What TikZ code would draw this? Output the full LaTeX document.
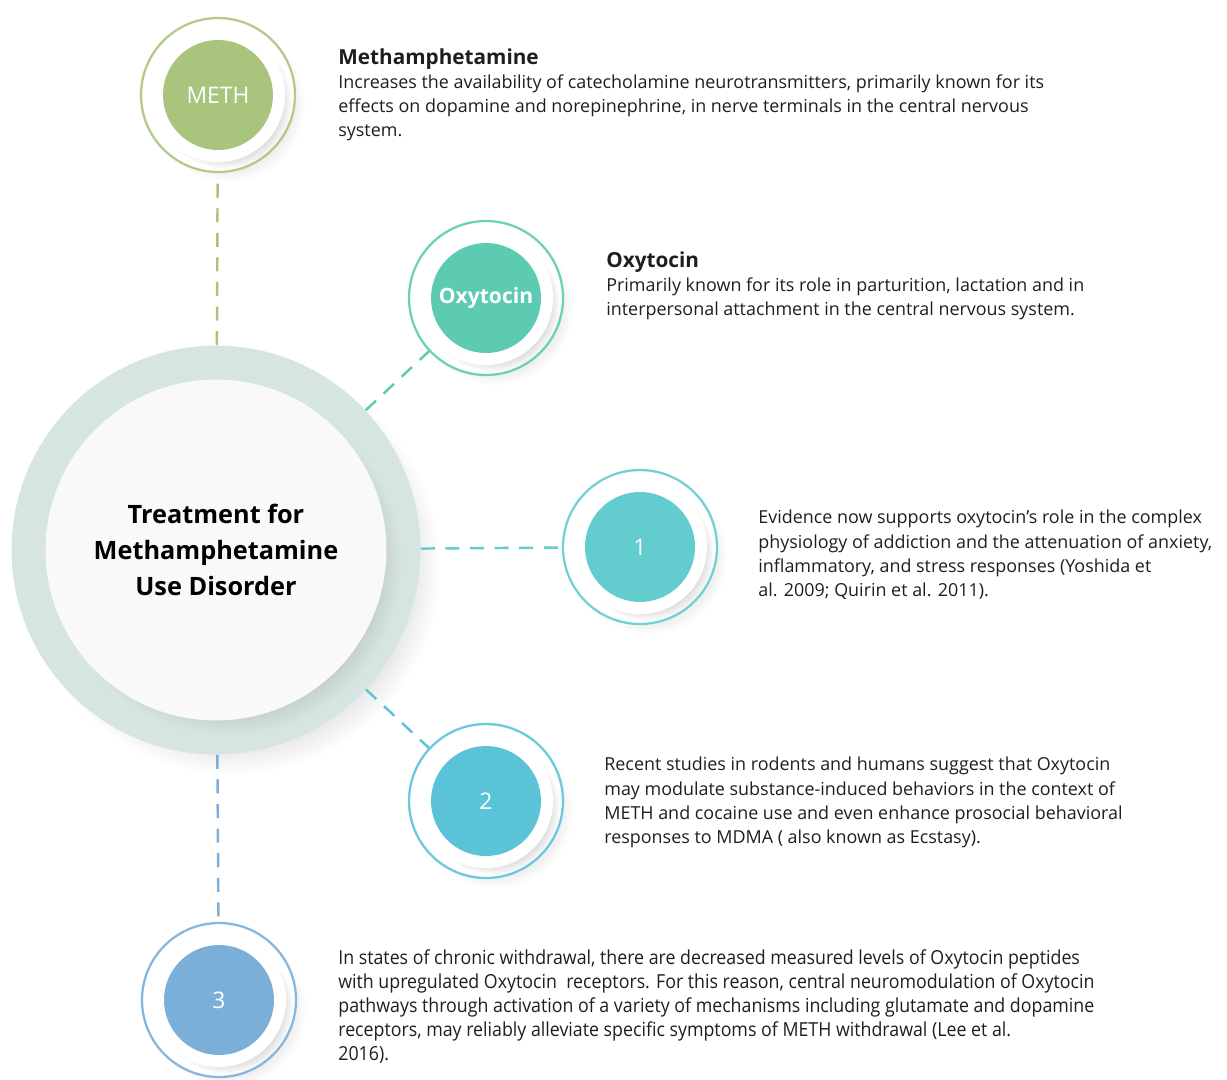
\documentclass[tikz,border=0pt]{standalone}
\usepackage{fontspec}
\setmainfont{Open Sans}
\newfontfamily\narrowfont[FakeStretch=0.92]{Open Sans}
\usetikzlibrary{shadows}
\definecolor{methgreen}{HTML}{A9C57D}
\definecolor{oxyteal}{HTML}{5DCBB1}
\definecolor{onecyan}{HTML}{63CCCE}
\definecolor{twoblue}{HTML}{5BC3D8}
\definecolor{threeblue}{HTML}{7BAFD7}
\definecolor{hubring}{HTML}{D6E5E2}
\definecolor{hubcore}{HTML}{F9F9F9}
\definecolor{inktext}{HTML}{1E1E1E}
\newcommand{\headline}[1]{{\fontsize{11.8}{13.7}\selectfont\bfseries #1}}
\begin{document}
\begin{tikzpicture}[x=0.02cm, y=-0.02cm,
hubout/.style={circle, fill=hubring, minimum size=8.18cm, inner sep=0,
  circular drop shadow={shadow xshift=9pt, shadow yshift=-9pt, opacity=0.2, shadow scale=1.02}},
hubin/.style={circle, fill=hubcore, minimum size=6.82cm, inner sep=0, align=center,
  font=\fontsize{14.4}{20.4}\selectfont\bfseries, text=black,
  circular drop shadow={shadow xshift=7pt, shadow yshift=-7pt, opacity=0.25, shadow scale=1.01}},
ringout/.style={circle, fill=white, line width=1.3pt, minimum size=3.08cm, inner sep=0,
  circular drop shadow={shadow xshift=5pt, shadow yshift=-5pt, opacity=0.12, shadow scale=1.02}},
ringdisk/.style={circle, fill=white, minimum size=2.68cm, inner sep=0,
  circular drop shadow={shadow xshift=4pt, shadow yshift=-4pt, opacity=0.25, shadow scale=1.0}},
ringcore/.style={circle, minimum size=2.2cm, inner sep=0, text=white,
  font=\fontsize{13}{15}\selectfont},
dashlink/.style={line width=1.4pt, dash pattern=on 8pt off 6pt},
blurb/.style={anchor=north west, inner sep=0, align=left, text=inktext,
  font=\fontsize{10.2}{13.7}\selectfont}]
\useasboundingbox (0,0) rectangle (1227,1079);

\node[hubout] (treat) at (216,550) {};
\node[hubin] (treattxt) at (treat) {Treatment for\\Methamphetamine\\Use Disorder};

\foreach \nm/\cx/\cy/\col/\lab in {meth/218/95/methgreen/METH,
    oxy/486/298/oxyteal/{\fontsize{12}{14}\selectfont\bfseries Oxytocin}, one/640/547/onecyan/1,
    two/486/801/twoblue/2, three/219/1000/threeblue/3}{
  \node[ringout, draw=\col!90!white] (\nm) at (\cx,\cy) {};
  \node[ringdisk] at (\nm) {};
  \node[ringcore, fill=\col] at (\nm) {\lab};
}

\foreach \nm/\col in {meth/methgreen, oxy/oxyteal, one/onecyan, two/twoblue, three/threeblue}
  \draw[dashlink, \col] (treat) -- (\nm);

\node[blurb] (methtxt) at (338,48) {\headline{Methamphetamine}\\
Increases the availability of catecholamine neurotransmitters, primarily known for its\\
effects on dopamine and norepinephrine, in nerve terminals in the central nervous\\
system.};
\node[blurb] (oxytxt) at (606,251) {\headline{Oxytocin}\\
Primarily known for its role in parturition, lactation and in\\
interpersonal attachment in the central nervous system.};
\node[blurb] (onetxt) at (758,510) {Evidence now supports oxytocin’s role in the complex\\
physiology of addiction and the attenuation of anxiety,\\
inflammatory, and stress responses (Yoshida et\\
al. 2009; Quirin et al. 2011).};
\node[blurb] (twotxt) at (604,757) {Recent studies in rodents and humans suggest that Oxytocin\\
may modulate substance-induced behaviors in the context of\\
METH and cocaine use and even enhance prosocial behavioral\\
responses to MDMA ( also known as Ecstasy).};
\node[blurb, font=\fontsize{11}{13.7}\selectfont\narrowfont] (threetxt) at (338,949) {In states of chronic withdrawal, there are decreased measured levels of Oxytocin peptides\\
with upregulated Oxytocin\ \ receptors. For this reason, central neuromodulation of Oxytocin\\
pathways through activation of a variety of mechanisms including glutamate and dopamine\\
receptors, may reliably alleviate specific symptoms of METH withdrawal (Lee et al.\\
2016).};
\end{tikzpicture}
\end{document}
